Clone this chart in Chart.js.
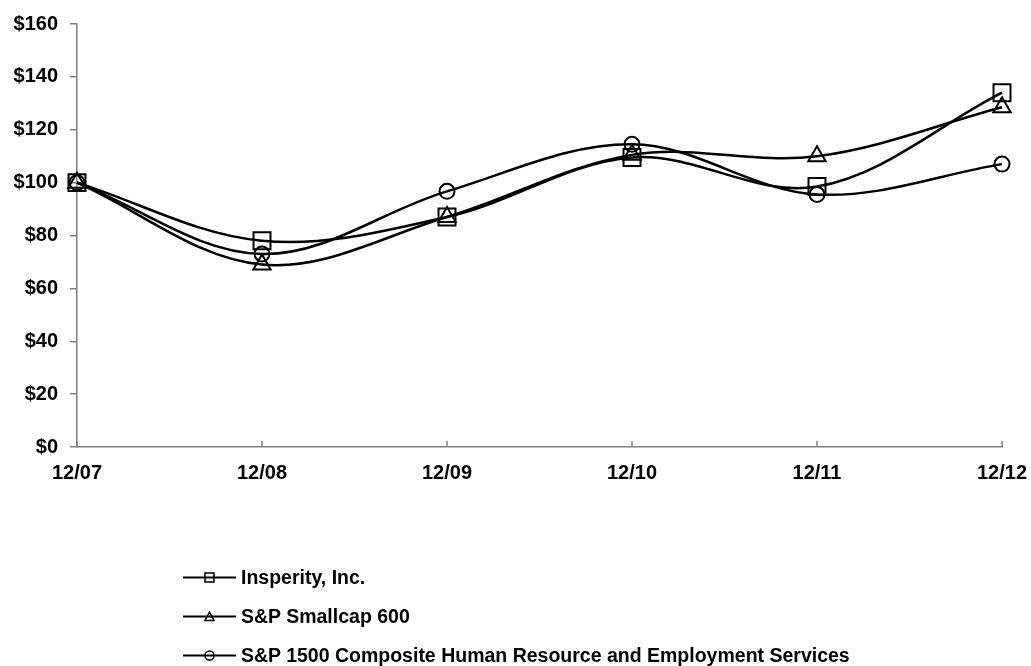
<!DOCTYPE html>
<html>
<head>
<meta charset="utf-8">
<script src="https://cdn.jsdelivr.net/npm/chart.js@4.4.1/dist/chart.umd.min.js"></script>
<style>
  html, body { margin: 0; padding: 0; background: #fff; }
  #wrap { position: relative; width: 1031px; height: 666px; }
  #legend { position: absolute; left: 183px; top: 558px; font: bold 19.5px "Liberation Sans", Arial, sans-serif; color: #000; }
  .row { height: 39px; display: flex; align-items: center; white-space: nowrap; }
  .row svg { margin-right: 5px; }
</style>
</head>
<body>
<div id="wrap">
  <canvas id="chart" width="1031" height="666"></canvas>
  <div id="legend"></div>
</div>
<script>
// cumulative total return, $100 invested 12/07
var periods = ['12/07', '12/08', '12/09', '12/10', '12/11', '12/12'];
var insperity = [100, 78, 87, 109.5, 98.5, 134];
var smallcap = [100, 69, 87, 110.5, 110, 128.5];
var hrServices = [100, 73, 96.7, 114.5, 95.5, 107];
var seriesNames = ['Insperity, Inc.', 'S&P Smallcap 600', 'S&P 1500 Composite Human Resource and Employment Services'];
var yTicks = [0, 20, 40, 60, 80, 100, 120, 140, 160];

var FONT = { family: '"Liberation Sans", Arial, sans-serif', size: 20, weight: 'bold' };
var AXIS = '#808080';

function ds(label, data, style, radius) {
  return {
    label: label, data: data,
    borderColor: '#000', borderWidth: 2.5,
    tension: 0.35, fill: false,
    pointStyle: style, pointRadius: radius, pointHoverRadius: radius,
    pointBorderColor: '#000', pointBorderWidth: 2, pointBackgroundColor: 'rgba(0,0,0,0)'
  };
}

// inward tick marks on the x axis
var xTickMarks = {
  id: 'xTickMarks',
  afterDraw: function (chart) {
    var c = chart.ctx, sx = chart.scales.x, bottom = chart.chartArea.bottom;
    c.save();
    c.strokeStyle = AXIS; c.lineWidth = 1.5;
    sx.ticks.forEach(function (t, i) {
      var x = sx.getPixelForTick(i);
      c.beginPath(); c.moveTo(x, bottom); c.lineTo(x, bottom - 6); c.stroke();
    });
    c.restore();
  }
};

new Chart(document.getElementById('chart'), {
  type: 'line',
  data: {
    labels: periods,
    datasets: [
      ds(seriesNames[0], insperity, 'rect', 12),
      ds(seriesNames[1], smallcap, 'triangle', 10),
      ds(seriesNames[2], hrServices, 'circle', 7.5)
    ]
  },
  plugins: [xTickMarks],
  options: {
    responsive: false, animation: false,
    layout: { padding: { top: 24, right: 29, bottom: 179, left: 0 } },
    plugins: { legend: { display: false }, tooltip: { enabled: false } },
    scales: {
      x: {
        offset: false,
        grid: { drawOnChartArea: false, drawTicks: false },
        border: { color: AXIS, width: 1.5 },
        ticks: { color: '#000', font: FONT, padding: 14, maxRotation: 0, autoSkip: false },
        afterFit: function (s) { s.height = 40; s.paddingLeft = 0; s.paddingRight = 0; }
      },
      y: {
        min: 0, max: 160,
        afterBuildTicks: function (s) { s.ticks = yTicks.map(function (v) { return { value: v }; }); },
        grid: { drawOnChartArea: false, tickLength: 7, color: AXIS, lineWidth: 1.5 },
        border: { color: AXIS, width: 1.5 },
        ticks: { color: '#000', font: FONT, padding: 12, callback: function (v) { return '$' + v; } },
        afterFit: function (s) { s.width = 77; s.paddingTop = 0; s.paddingBottom = 0; }
      }
    }
  }
});

// legend with line + marker icons
var icons = [
  '<rect x="22" y="4" width="9" height="9" fill="none" stroke="#000" stroke-width="1.5"/>',
  '<polygon points="26.5,4 31,12.5 22,12.5" fill="none" stroke="#000" stroke-width="1.5"/>',
  '<circle cx="26.5" cy="8.5" r="4.5" fill="none" stroke="#000" stroke-width="1.5"/>'
];
var legend = document.getElementById('legend');
seriesNames.forEach(function (name, i) {
  var row = document.createElement('div');
  row.className = 'row';
  row.innerHTML = '<svg width="53" height="17"><line x1="0" y1="8.5" x2="53" y2="8.5" stroke="#000" stroke-width="2"/>' +
    icons[i] + '</svg><span>' + name.replace(/&/g, '&amp;') + '</span>';
  legend.appendChild(row);
});
</script>
</body>
</html>
